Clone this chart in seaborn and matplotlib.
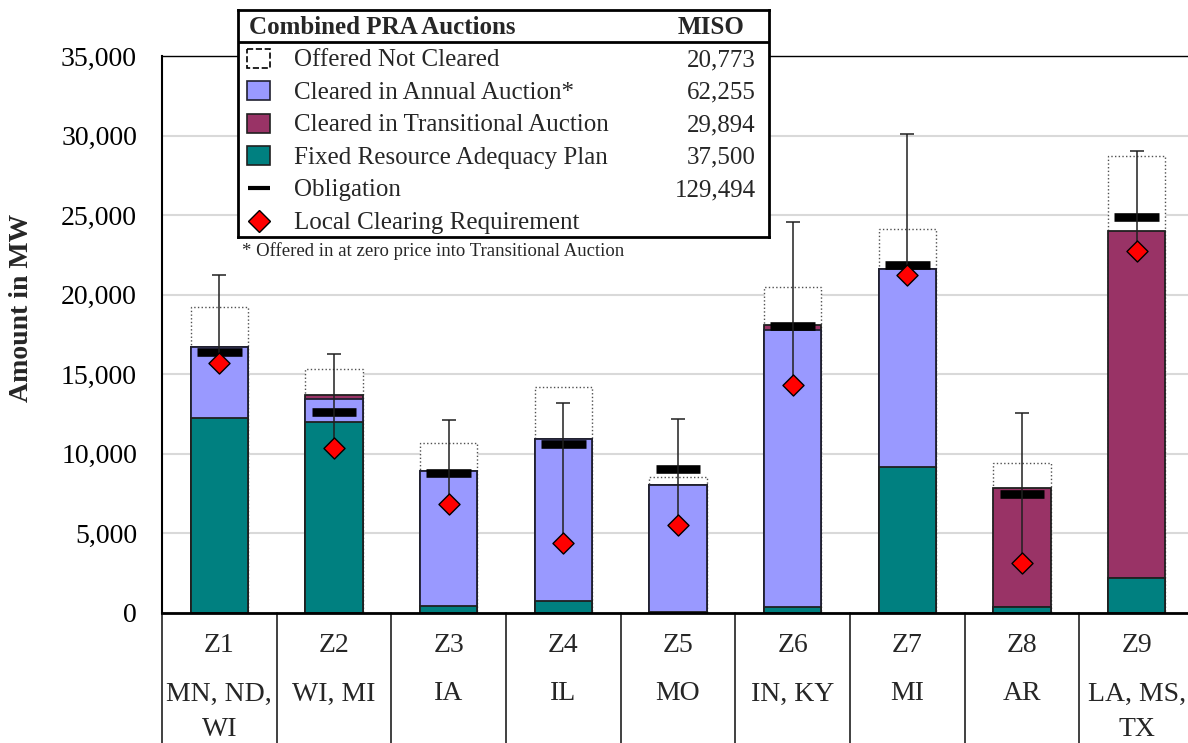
import numpy as np
import pandas as pd
import matplotlib
matplotlib.use('Agg')
import matplotlib.pyplot as plt
import matplotlib.transforms as mtransforms
from matplotlib.patches import Rectangle
from matplotlib.ticker import FuncFormatter
import seaborn as sns

# ---- data (MW) ----
zones = ['Z1', 'Z2', 'Z3', 'Z4', 'Z5', 'Z6', 'Z7', 'Z8', 'Z9']
states = ['MN, ND,\nWI', 'WI, MI', 'IA', 'IL', 'MO', 'IN, KY', 'MI', 'AR', 'LA, MS,\nTX']

frap = [12275, 11983, 460, 773, 40, 396, 9195, 396, 2180]
annual = [4421, 1446, 8483, 10142, 8004, 17388, 12422, 0, 0]
transitional = [0, 251, 0, 0, 0, 295, 0, 7480, 21844]
offered_not_cleared = [2554, 1672, 1719, 3306, 483, 2426, 2533, 1531, 4714]
obligation = [16400, 12612, 8778, 10640, 9030, 18055, 21888, 7459, 24866]
lcr = [15730, 10369, 6850, 4380, 5530, 14328, 21240, 3161, 22767]
range_top = [21240, 16256, 12128, 13215, 12172, 24590, 30100, 12549, 29052]

legend_labels = ['Offered Not Cleared', 'Cleared in Annual Auction*',
                 'Cleared in Transitional Auction', 'Fixed Resource Adequacy Plan',
                 'Obligation', 'Local Clearing Requirement']
legend_totals = [20773, 62255, 29894, 37500, 129494, None]

TEAL = '#008080'
LAVENDER = '#9999FF'
PLUM = '#993366'

sns.set_theme(style='white')
plt.rcParams['font.family'] = ['Liberation Serif', 'DejaVu Serif']

W, H = 1188, 743
fig = plt.figure(figsize=(W / 100, H / 100), dpi=100)

# axes: x from 162px to 1194px, y from 56px to 613px
ax_top, ax_bot = 56, 613
ax = fig.add_axes([162 / W, 1 - ax_bot / H, (1194 - 162) / W, (ax_bot - ax_top) / H])

df = pd.DataFrame({'zone': zones})
df['lvl1'] = np.array(frap)
df['lvl2'] = df['lvl1'] + np.array(annual)
df['lvl3'] = df['lvl2'] + np.array(transitional)
df['lvl4'] = df['lvl3'] + np.array(offered_not_cleared)

# stacked bars drawn as overlaid cumulative totals (tallest first)
layers = [('lvl4', 'white', '#505050', ':', 1.0),
          ('lvl3', PLUM, '#202020', '-', 1.3),
          ('lvl2', LAVENDER, '#202030', '-', 1.3),
          ('lvl1', TEAL, '#202020', '-', 1.3)]
for col, fc, ec, ls, lw in layers:
    sns.barplot(data=df, x='zone', y=col, order=zones, color=fc, edgecolor=ec,
                linestyle=ls, linewidth=lw, width=0.5, saturation=1,
                errorbar=None, ax=ax)

pos = np.arange(len(zones))

# obligation markers
ax.hlines(obligation, pos - 0.195, pos + 0.195, color='black', lw=6.2, zorder=3.5)

# range line from LCR up
lo = np.zeros(len(zones))
hi = np.array(range_top) - np.array(lcr)
ax.errorbar(pos, lcr, yerr=[lo, hi], fmt='none', ecolor='#202020',
            elinewidth=1.1, capsize=5, capthick=1.1, zorder=4)

# local clearing requirement
sns.scatterplot(x=pos, y=lcr, marker='D', s=115, color='#FF0000',
                edgecolor='black', linewidth=1, zorder=5, legend=False, ax=ax)

ax.set_xlim(-0.5, len(zones) - 0.5)
ax.set_ylim(0, 35000)
ax.set_yticks(np.arange(0, 35001, 5000))
ax.yaxis.set_major_formatter(FuncFormatter(lambda v, p: f'{v:,.0f}'))
ax.set_xticks([])
ax.set_xlabel('')
ax.set_ylabel('')
ax.yaxis.grid(True, color='#d9d9d9', lw=1.5)
ax.set_axisbelow(True)
ax.tick_params(axis='y', length=0, pad=18, labelsize=20, labelcolor='black')
for name, sp in ax.spines.items():
    sp.set_color('black')
ax.spines['top'].set_linewidth(1.0)
ax.spines['left'].set_linewidth(1.5)
ax.spines['bottom'].set_linewidth(2.0)

# category table under the axis
trans = mtransforms.blended_transform_factory(ax.transData, ax.transAxes)
span = ax_bot - ax_top


def ay(ypix):
    return (ax_bot - ypix) / span


for b in np.arange(-0.5, len(zones), 1.0):
    ax.plot([b, b], [0, ay(760)], transform=trans, color='#202020', lw=1.2,
            clip_on=False)
for i, (z, st) in enumerate(zip(zones, states)):
    ax.text(i, ay(645), z, transform=trans, ha='center', va='center', fontsize=20)
    for k, line in enumerate(st.split('\n')):
        ax.text(i, ay(694 + 35 * k), line, transform=trans, ha='center',
                va='center', fontsize=20)

fig.text(22 / W, 1 - 308 / H, 'Amount in MW', rotation=90, fontsize=20,
         fontweight='bold', ha='center', va='center')

# legend table
lx0, lx1, ly0, ly1 = 237.5, 769, 9.5, 237
lax = fig.add_axes([lx0 / W, 1 - ly1 / H, (lx1 - lx0) / W, (ly1 - ly0) / H])
lax.set_xlim(lx0, lx1)
lax.set_ylim(ly1, ly0)
lax.set_xticks([])
lax.set_yticks([])
lax.set_facecolor('white')
for sp in lax.spines.values():
    sp.set_linewidth(2)
    sp.set_color('black')
lax.axhline(42, color='black', lw=2)
lax.text(249, 28, 'Combined PRA Auctions', fontweight='bold', fontsize=18,
         ha='left', va='center')
lax.text(745, 28, 'MISO', fontweight='bold', fontsize=18, ha='right', va='center')

swatches = [('white', 'black', '--'), (LAVENDER, '#202030', '-'),
            (PLUM, '#202020', '-'), (TEAL, '#202020', '-')]
for i, (lab, tot) in enumerate(zip(legend_labels, legend_totals)):
    y = 58.5 + 32.4 * i
    if i < 4:
        fc, ec, ls = swatches[i]
        lax.add_patch(Rectangle((247, y - 9.5), 23, 19, facecolor=fc,
                                edgecolor=ec, linestyle=ls, lw=1.2))
    elif i == 4:
        lax.plot([248, 270], [y, y], color='black', lw=3, solid_capstyle='butt')
    else:
        lax.plot(259, y, marker='D', ms=11, mfc='#FF0000', mec='black', mew=1)
    lax.text(294, y + 2, lab, fontsize=18, ha='left', va='center')
    if tot is not None:
        lax.text(756, y + 2, f'{tot:,}', fontsize=18, ha='right', va='center')

fig.text(242 / W, 1 - 251 / H, '* Offered in at zero price into Transitional Auction',
         fontsize=13.5, ha='left', va='center')

fig.savefig('out.png', dpi=100)
